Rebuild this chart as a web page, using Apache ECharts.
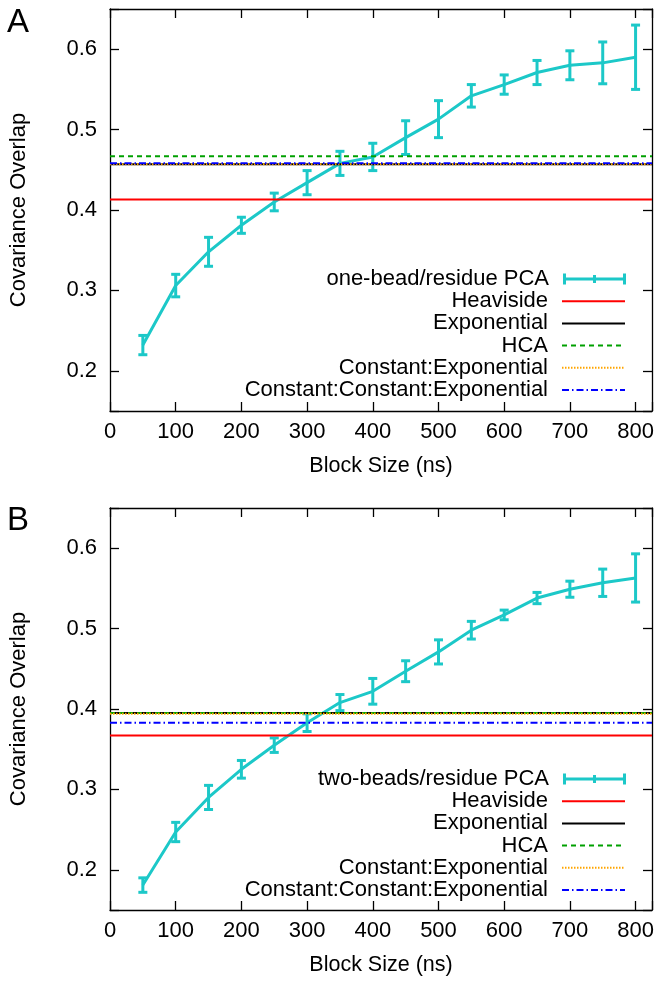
<!DOCTYPE html>
<html>
<head>
<meta charset="utf-8">
<script src="https://cdn.jsdelivr.net/npm/echarts@6/dist/echarts.min.js"></script>
<style>
html,body{margin:0;padding:0;background:#fff;}
#chart{width:664px;height:986px;}
</style>
</head>
<body>
<div id="chart"></div>
<script>
// ---- data ----
const blockSize = [50, 100, 150, 200, 250, 300, 350, 400, 450, 500, 550, 600, 650, 700, 750, 800];

const pcaA = [0.232, 0.306, 0.348, 0.381, 0.410, 0.434, 0.458, 0.466, 0.490, 0.513, 0.542, 0.556, 0.571, 0.580, 0.583, 0.590];
const errA = [0.012, 0.014, 0.018, 0.010, 0.011, 0.015, 0.015, 0.017, 0.021, 0.023, 0.014, 0.012, 0.015, 0.018, 0.026, 0.040];

const pcaB = [0.181, 0.247, 0.290, 0.325, 0.355, 0.383, 0.408, 0.422, 0.447, 0.471, 0.498, 0.517, 0.538, 0.549, 0.557, 0.563];
const errB = [0.009, 0.012, 0.015, 0.011, 0.009, 0.011, 0.010, 0.016, 0.013, 0.015, 0.011, 0.006, 0.007, 0.010, 0.017, 0.030];

const modelNames = ['Heaviside', 'Exponential', 'HCA', 'Constant:Exponential', 'Constant:Constant:Exponential'];
const modelA = [0.413, 0.457, 0.467, 0.457, 0.458];
const modelB = [0.367, 0.395, 0.395, 0.394, 0.383];

const pcaNameA = 'one-bead/residue PCA';
const pcaNameB = 'two-beads/residue PCA';

const xTicks = [0, 100, 200, 300, 400, 500, 600, 700, 800];
const yTicks = [0.2, 0.3, 0.4, 0.5, 0.6];

// ---- styles ----
const FONT = '"Liberation Sans", Arial, Helvetica, sans-serif';
const CYAN = '#1cc8c8';
const modelColors = ['#ff0000', '#000000', '#00a000', '#ffa500', '#0000ff'];
const modelDash = ['solid', 'solid', [5, 4], [1.5, 1.5], [7, 3, 1.5, 3]];

const chart = echarts.init(document.getElementById('chart'), null, {renderer: 'canvas'});

const X_MIN = 0, X_MAX = 825, Y_MIN = 0.15, Y_MAX = 0.65;

function grids() {
  return [
    {left: 108, right: 12, top: 9, height: 402},
    {left: 108, right: 12, top: 508, height: 402}
  ];
}

function xAxes() {
  const res = [];
  [0, 1].forEach(g => {
    res.push({
      type: 'value', gridIndex: g, position: 'bottom', min: X_MIN, max: X_MAX, interval: 100,
      name: 'Block Size (ns)', nameLocation: 'middle', nameGap: 44,
      nameTextStyle: {fontFamily: FONT, fontSize: 21.5, color: '#000'},
      axisLine: {show: true, onZero: false, lineStyle: {color: '#000', width: 1.3}},
      axisTick: {show: true, inside: true, length: 9, lineStyle: {color: '#000', width: 1.3}},
      axisLabel: {fontFamily: FONT, fontSize: 22, color: '#000', margin: 10,
        formatter: v => (xTicks.indexOf(v) >= 0 ? String(v) : '')},
      splitLine: {show: false}
    });
    res.push({
      type: 'value', gridIndex: g, position: 'top', min: X_MIN, max: X_MAX, interval: 100,
      axisLine: {show: true, onZero: false, lineStyle: {color: '#000', width: 1.3}},
      axisTick: {show: true, inside: true, length: 9, lineStyle: {color: '#000', width: 1.3}},
      axisLabel: {show: false},
      splitLine: {show: false}
    });
  });
  return res;
}

function isTick(v) {
  return yTicks.some(t => Math.abs(t - v) < 1e-6);
}

function yAxes() {
  const res = [];
  [0, 1].forEach(g => {
    res.push({
      type: 'value', gridIndex: g, position: 'left', min: Y_MIN, max: Y_MAX, splitNumber: 5,
      name: 'Covariance Overlap', nameLocation: 'middle', nameGap: 80,
      nameTextStyle: {fontFamily: FONT, fontSize: 22, color: '#000'},
      axisLine: {show: true, onZero: false, lineStyle: {color: '#000', width: 1.3}},
      axisTick: {show: true, inside: true, length: 9, lineStyle: {color: '#000', width: 1.3}},
      axisLabel: {fontFamily: FONT, fontSize: 22, color: '#000', margin: 13,
        formatter: v => (isTick(v) ? v.toFixed(1) : '')},
      splitLine: {show: false}
    });
    res.push({
      type: 'value', gridIndex: g, position: 'right', min: Y_MIN, max: Y_MAX, splitNumber: 5,
      axisLine: {show: true, onZero: false, lineStyle: {color: '#000', width: 1.3}},
      axisTick: {show: true, inside: true, length: 9, lineStyle: {color: '#000', width: 1.3}},
      axisLabel: {show: false},
      splitLine: {show: false}
    });
  });
  return res;
}

function errorBarRender(params, api) {
  const x = api.value(0), y = api.value(1), e = api.value(2);
  const top = api.coord([x, y + e]);
  const bot = api.coord([x, y - e]);
  const hw = 4.5;
  const st = {stroke: CYAN, lineWidth: 3};
  return {
    type: 'group',
    children: [
      {type: 'line', shape: {x1: top[0], y1: top[1], x2: bot[0], y2: bot[1]}, style: st},
      {type: 'line', shape: {x1: top[0] - hw, y1: top[1], x2: top[0] + hw, y2: top[1]}, style: st},
      {type: 'line', shape: {x1: bot[0] - hw, y1: bot[1], x2: bot[0] + hw, y2: bot[1]}, style: st}
    ]
  };
}

function panelSeries(g, pca, err, pcaName, models) {
  const xi = g * 2, yi = g * 2;
  const list = [];
  list.push({
    type: 'line', name: pcaName + ' curve', xAxisIndex: xi, yAxisIndex: yi,
    data: blockSize.map((b, i) => [b, pca[i]]),
    symbol: 'none', lineStyle: {color: CYAN, width: 3}, itemStyle: {color: CYAN},
    z: 2
  });
  list.push({
    type: 'custom', name: pcaName, xAxisIndex: xi, yAxisIndex: yi,
    data: blockSize.map((b, i) => [b, pca[i], err[i]]),
    encode: {x: 0, y: 1},
    renderItem: errorBarRender, itemStyle: {color: CYAN},
    z: 2
  });
  modelNames.forEach((n, k) => {
    list.push({
      type: 'line', name: n, xAxisIndex: xi, yAxisIndex: yi,
      data: [[X_MIN, models[k]], [X_MAX, models[k]]],
      symbol: 'none',
      lineStyle: {color: modelColors[k], width: 2, type: modelDash[k]},
      itemStyle: {color: modelColors[k]},
      z: 3 + k
    });
  });
  return list;
}

function legends(g, pcaName) {
  const base = g === 0 ? 268 : 768;
  const step = 22.2;
  const common = {
    orient: 'horizontal', align: 'right', right: 38, padding: 0,
    itemWidth: 63, itemHeight: 12, selectedMode: false,
    textStyle: {fontFamily: FONT, fontSize: 22, color: '#000', lineHeight: 22, padding: [0, 9, 0, 0]}
  };
  const res = [];
  res.push(Object.assign({}, common, {
    top: base,
    itemHeight: 11,
    data: [{name: pcaName, icon: 'path://M0,4h63v3h-63z M0,0h3v11h-3z M30,1.5h3v8h-3z M60,0h3v11h-3z'}],
    itemStyle: {borderWidth: 0, color: CYAN}
  }));
  modelNames.forEach((n, k) => {
    res.push(Object.assign({}, common, {
      top: base + step * (k + 1),
      data: [n],
      itemStyle: {opacity: 0},
      lineStyle: {width: 2, color: modelColors[k], type: modelDash[k]}
    }));
  });
  return res;
}

const option = {
  backgroundColor: '#fff',
  animation: false,
  title: [
    {text: 'A', left: 7, top: 6, padding: 0, textStyle: {fontFamily: FONT, fontSize: 33, fontWeight: 'normal', color: '#000'}},
    {text: 'B', left: 7, top: 504, padding: 0, textStyle: {fontFamily: FONT, fontSize: 33, fontWeight: 'normal', color: '#000'}}
  ],
  grid: grids(),
  xAxis: xAxes(),
  yAxis: yAxes(),
  legend: legends(0, pcaNameA).concat(legends(1, pcaNameB)),
  series: panelSeries(0, pcaA, errA, pcaNameA, modelA).concat(panelSeries(1, pcaB, errB, pcaNameB, modelB))
};

chart.setOption(option);
</script>
</body>
</html>
